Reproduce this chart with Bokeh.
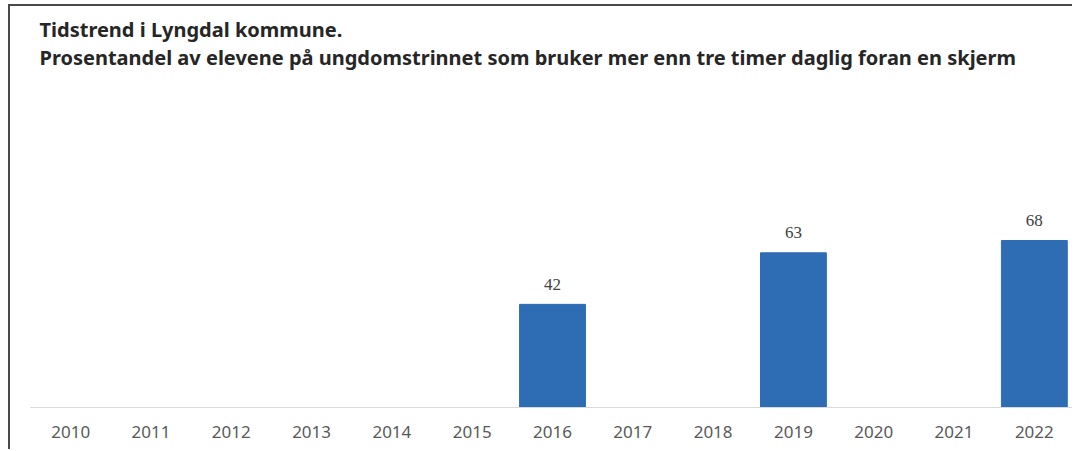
from bokeh.plotting import figure
from bokeh.models import ColumnDataSource, FactorRange, Range1d, LabelSet, Label
from bokeh.embed import file_html
from bokeh.resources import INLINE

# ---- data ----
years = ["2010", "2011", "2012", "2013", "2014", "2015", "2016",
         "2017", "2018", "2019", "2020", "2021", "2022"]
data_years = ["2016", "2019", "2022"]
values = [42, 63, 68]
value_labels = [str(v) for v in values]
title_line1 = "Tidstrend i Lyngdal kommune."
title_line2 = ("Prosentandel av elevene på ungdomstrinnet som bruker mer enn tre "
               "timer daglig foran en skjerm")

FONT = "Noto Sans"
BAR = "#2e6db4"

src = ColumnDataSource(dict(x=data_years, top=values, label=value_labels))

p = figure(
    width=1064, height=445,
    x_range=FactorRange(factors=years, range_padding=0),
    y_range=Range1d(0, 163.3),
    output_backend="svg", toolbar_location=None,
    min_border_left=20, min_border_right=0, min_border_top=0, min_border_bottom=44,
    outline_line_color=None, background_fill_color="white", border_fill_color="white",
)
p.styles = {
    "margin-left": "8px", "margin-top": "4px",
    "border-left": "2px solid #4a4a4a", "border-top": "2px solid #4a4a4a",
}

p.vbar(x="x", top="top", width=0.82, source=src, color=BAR, line_color=BAR)

p.add_layout(LabelSet(x="x", y="top", text="label", source=src,
                      y_offset=20, text_align="center", text_baseline="middle",
                      text_font=FONT, text_font_size="17px", text_color="#404040"))

p.add_layout(Label(x=9, y=378, x_units="screen", y_units="screen", text=title_line1,
                   text_font=FONT, text_font_size="20px", text_font_style="bold",
                   text_color="#262626", text_baseline="middle"))
p.add_layout(Label(x=9, y=350.5, x_units="screen", y_units="screen", text=title_line2,
                   text_font=FONT, text_font_size="20px", text_font_style="bold",
                   text_color="#262626", text_baseline="middle"))

p.yaxis.visible = False
p.xgrid.grid_line_color = None
p.ygrid.grid_line_color = None
ax = p.xaxis[0]
ax.axis_line_color = "#d9d9d9"
ax.axis_line_width = 1
ax.major_tick_line_color = None
ax.minor_tick_line_color = None
ax.major_tick_out = 0
ax.major_tick_in = 0
ax.major_label_standoff = 18
ax.major_label_text_font = FONT
ax.major_label_text_font_size = "17px"
ax.major_label_text_color = "#595959"

open("out.html", "w").write(file_html(p, INLINE))
